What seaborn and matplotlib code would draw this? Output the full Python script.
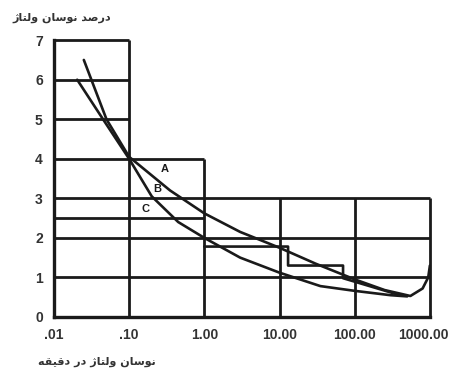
import pandas as pd
import matplotlib
matplotlib.use('Agg')
import matplotlib.pyplot as plt
import matplotlib.transforms as mtransforms
import seaborn as sns

# curve A (upper limit)
a_x = [0.025, 0.05, 0.1, 0.35, 1.0, 3.0, 10, 30, 100, 250, 550, 800, 950, 1000]
a_y = [6.5, 5.0, 4.05, 3.2, 2.62, 2.15, 1.75, 1.35, 0.95, 0.68, 0.53, 0.72, 1.0, 1.3]

# curve C (lower limit)
c_x = [0.0204, 0.045, 0.1, 0.2, 0.45, 1.0, 3.0, 10, 35, 100, 300, 500]
c_y = [6.0, 5.0, 4.0, 3.05, 2.4, 2.0, 1.5, 1.12, 0.78, 0.66, 0.55, 0.52]

# curve B (steps)
b_x = [1.0, 13, 13, 70, 70, 400]
b_y = [1.78, 1.78, 1.3, 1.3, 0.98, 0.55]

# grid boxes: horizontal lines (y, x from, x to) and vertical lines (x, top)
h_y = [7, 6, 5, 4, 3, 2.5, 2, 1]
h_x0 = [0.01, 0.01, 0.01, 0.01, 0.01, 0.01, 0.01, 0.01]
h_x1 = [0.1, 0.1, 0.1, 1.0, 1000, 1.0, 1000, 1000]
v_x = [0.1, 1.0, 10, 100, 1000]
v_top = [7, 4, 3, 3, 3]

x_ticks = [0.01, 0.1, 1, 10, 100, 1000]
x_labels = ['.01', '.10', '1.00', '10.00', '100.00', '1000.00']
y_ticks = [0, 1, 2, 3, 4, 5, 6, 7]

curve_names = ['A', 'B', 'C']
name_x = [0.30, 0.236, 0.163]
name_y = [3.73, 3.24, 2.74]

# Persian labels written in shaped, visual (left-to-right) order
y_title = '\u0698\uFE8E\uFE98\uFEDF\uFEED \uFEE5\uFE8E\uFEB3\uFEEE\uFEE7 \uFEAA\uFEBB\uFEAD\uFEA9'  # درصد نوسان ولتاژ
x_title = '\uFEEA\uFED8\uFEF4\uFED7\uFEA9 \uFEAD\uFEA9 \u0698\uFE8E\uFE98\uFEDF\uFEED \uFEE5\uFE8E\uFEB3\uFEEE\uFEE7'  # نوسان ولتاژ در دقیقه

df = pd.concat([
    pd.DataFrame({'x': a_x, 'y': a_y, 'curve': 'A'}),
    pd.DataFrame({'x': b_x, 'y': b_y, 'curve': 'B'}),
    pd.DataFrame({'x': c_x, 'y': c_y, 'curve': 'C'}),
])

sns.set_style('white')
plt.rcParams['font.family'] = ['Liberation Sans', 'DejaVu Sans']

fig = plt.figure(figsize=(4.53, 3.72), dpi=100)
ax = fig.add_axes([0.119, 0.148, 0.830, 0.744])

ink = '#1a1a1a'
ax.hlines(h_y, h_x0, h_x1, colors=ink, lw=2.0, clip_on=False)
ax.vlines(v_x, 0, v_top, colors=ink, lw=2.0, clip_on=False)

sns.lineplot(data=df, x='x', y='y', units='curve', estimator=None, sort=False,
             color=ink, lw=1.9, ax=ax, legend=False)

for n, tx, ty in zip(curve_names, name_x, name_y):
    ax.text(tx, ty, n, fontsize=8, fontweight='bold', color=ink, ha='center', va='center')

ax.set_xscale('log')
ax.set_xlim(0.01, 1000)
ax.set_ylim(0, 7)
ax.set_xticks(x_ticks)
ax.set_xticklabels(x_labels)
ax.minorticks_off()
ax.set_yticks(y_ticks)
ax.tick_params(length=0, labelsize=10, colors='#333333', pad=8)
for lab in ax.get_xticklabels() + ax.get_yticklabels():
    lab.set_fontweight('bold')
# the last label sits a little left so it stays inside the picture
last = ax.get_xticklabels()[-1]
last.set_transform(last.get_transform() + mtransforms.ScaledTranslation(-0.07, 0, fig.dpi_scale_trans))
ax.set_xlabel('')
ax.set_ylabel('')
sns.despine(ax=ax)
for s in ['left', 'bottom']:
    ax.spines[s].set_linewidth(2.4)
    ax.spines[s].set_color(ink)

fig.text(12 / 453, 1 - 18 / 372, y_title, fontsize=8, fontweight='bold',
         family=['DejaVu Sans'], color='#333333', ha='left', va='center')
fig.text(97 / 453, 1 - 362 / 372, x_title, fontsize=8, fontweight='bold',
         family=['DejaVu Sans'], color='#333333', ha='center', va='center')

fig.savefig('out.png', dpi=100, facecolor='white')
